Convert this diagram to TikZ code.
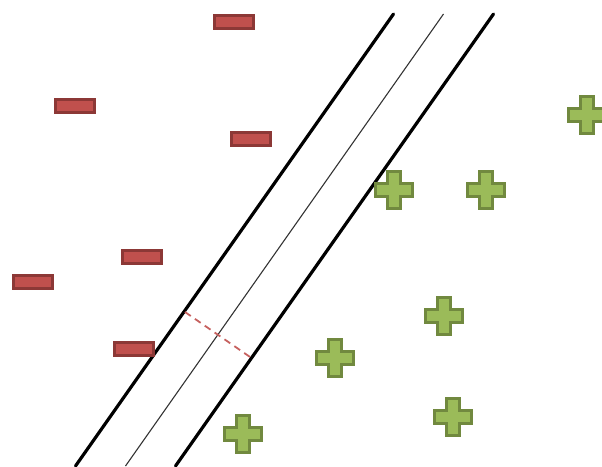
\documentclass[tikz,border=0pt]{standalone}
\usetikzlibrary{calc}
\definecolor{negfill}{HTML}{C0504D}
\definecolor{negdraw}{HTML}{8C3836}
\definecolor{posfill}{HTML}{9BBB59}
\definecolor{posdraw}{HTML}{71893F}
\tikzset{
  negbox/.style={draw=negdraw, fill=negfill, line width=2.6pt, minimum width=38.5pt, minimum height=12.5pt, inner sep=0pt},
  marginline/.style={line width=3.2pt, black},
  midline/.style={line width=1.1pt, black!80},
  gapline/.style={line width=1.8pt, negfill!90, dash pattern=on 7pt off 5pt},
  pics/posmark/.style={code={
    \draw[draw=posdraw, fill=posfill, line width=2.6pt]
      (-6.3,-18.7) -- (6.3,-18.7) -- (6.3,-6.3) -- (18.7,-6.3) -- (18.7,6.3) -- (6.3,6.3) -- (6.3,18.7)
      -- (-6.3,18.7) -- (-6.3,6.3) -- (-18.7,6.3) -- (-18.7,-6.3) -- (-6.3,-6.3) -- cycle;
  }}
}
\begin{document}
\begin{tikzpicture}[x=1pt, y=-1pt]
\useasboundingbox (0,0) rectangle (602,466);
\begin{scope}
\clip (0,0) rectangle (602,466);
% margin and separating lines
\coordinate (lt) at (393.5,14);
\coordinate (lb) at (75.5,466);
\coordinate (mt) at (443.5,14);
\coordinate (mb) at (125.5,466);
\coordinate (rt) at (493.5,14);
\coordinate (rb) at (175.5,466);
\draw[marginline, line cap=round] (lt) -- (lb);
\draw[midline] (mt) -- (mb);
\draw[marginline, line cap=round] (rt) -- (rb);
% margin width indicator
\coordinate (ga) at (185,312);
\coordinate (gb) at (251.5,358);
\draw[gapline] (ga) -- (gb);
% negative samples
\node[negbox] (n1) at (234,22) {};
\node[negbox] (n2) at (75,106) {};
\node[negbox] (n3) at (251,139) {};
\node[negbox] (n4) at (142,257) {};
\node[negbox] (n5) at (33,282) {};
\node[negbox] (n6) at (134,349) {};
% positive samples
\pic (p1) at (394,190) {posmark};
\pic (p2) at (486,190) {posmark};
\pic (p3) at (587,115) {posmark};
\pic (p4) at (444,316) {posmark};
\pic (p5) at (335,358) {posmark};
\pic (p6) at (453,417) {posmark};
\pic (p7) at (243,434) {posmark};
\end{scope}
\end{tikzpicture}
\end{document}
